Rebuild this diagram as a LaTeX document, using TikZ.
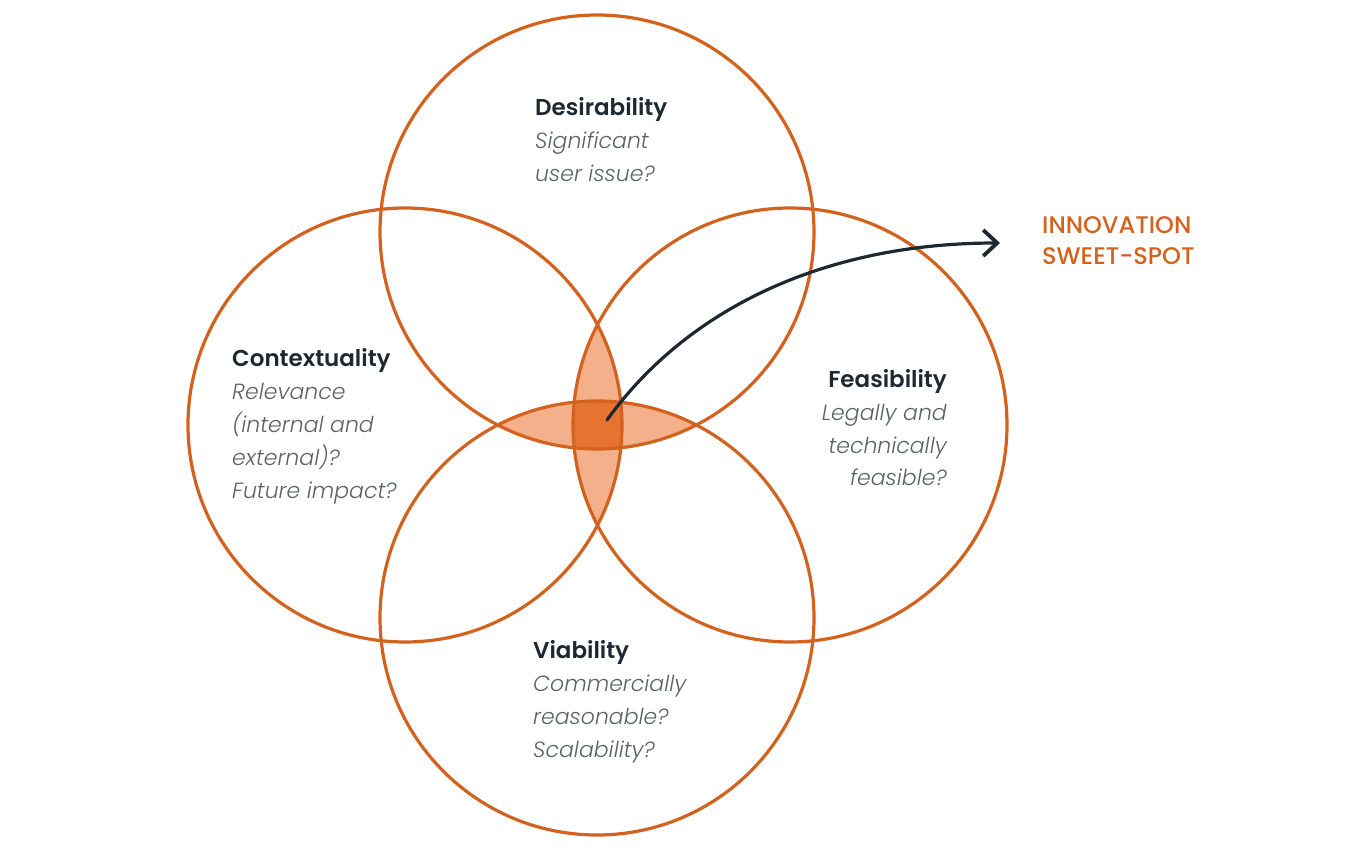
\documentclass[tikz,border=0pt]{standalone}
\usepackage{fontspec}
\setmainfont{Poppins}
\IfFontExistsTF{Poppins SemiBold}{\newfontfamily\hdfont{Poppins SemiBold}}{\newfontfamily\hdfont{Poppins}[UprightFont=*-Bold]}
\IfFontExistsTF{Poppins Light Italic}{\newfontfamily\litfont{Poppins Light Italic}}{\newfontfamily\litfont{Poppins}[UprightFont=*-Italic]}
\IfFontExistsTF{Poppins Medium}{\newfontfamily\mdfont{Poppins Medium}}{\newfontfamily\mdfont{Poppins}}
\usetikzlibrary{arrows.meta}
\definecolor{orng}{HTML}{D2621E}
\definecolor{lens}{HTML}{F3B08A}
\definecolor{core}{HTML}{E6732F}
\definecolor{ink}{HTML}{1E2833}
\definecolor{grey}{HTML}{5C6168}
\tikzset{
  ring/.style={draw=orng, line width=3.2pt},
  head/.style={font=\fontsize{23}{33}\hdfont\selectfont, text=ink, inner sep=0pt},
  sub/.style={font=\fontsize{22}{33}\litfont\selectfont, text=grey, inner sep=0pt},
  sweet/.style={font=\fontsize{24}{33}\mdfont\selectfont, text=orng, inner sep=0pt, anchor=base west},
}
\begin{document}
\begin{tikzpicture}[x=1pt,y=-1pt]
\useasboundingbox (0,0) rectangle (1360,850);
\coordinate (T) at (597,232);
\coordinate (B) at (597,618);
\coordinate (L) at (405,425);
\coordinate (R) at (790,425);
\def\rr{217}
% lenses
\begin{scope}
  \clip (L) circle (\rr);
  \fill[lens] (R) circle (\rr);
\end{scope}
\begin{scope}
  \clip (T) circle (\rr);
  \fill[lens] (B) circle (\rr);
\end{scope}
\begin{scope}
  \clip (L) circle (\rr);
  \clip (R) circle (\rr);
  \clip (T) circle (\rr);
  \fill[core] (B) circle (\rr);
\end{scope}
% circles
\draw[ring] (T) circle (\rr);
\draw[ring] (B) circle (\rr);
\draw[ring] (L) circle (\rr);
\draw[ring] (R) circle (\rr);
% texts
\node[head, anchor=base west] (dh) at (535,116) {Desirability};
\node[sub, anchor=base west] (d1) at (535,149) {Significant};
\node[sub, anchor=base west] (d2) at (535,182) {user issue?};

\node[head, anchor=base west] (ch) at (232,366) {Contextuality};
\node[sub, anchor=base west] (c1) at (232,399) {Relevance};
\node[sub, anchor=base west] (c2) at (232,432) {(internal and};
\node[sub, anchor=base west] (c3) at (232,465) {external)?};
\node[sub, anchor=base west] (c4) at (232,498) {Future impact?};

\node[head, anchor=base east] (fh) at (947,387) {Feasibility};
\node[sub, anchor=base east] (f1) at (947,420) {Legally and};
\node[sub, anchor=base east] (f2) at (947,453) {technically};
\node[sub, anchor=base east] (f3) at (947,485) {feasible?};

\node[head, anchor=base west] (vh) at (533,658) {Viability};
\node[sub, anchor=base west] (v1) at (533,691) {Commercially};
\node[sub, anchor=base west] (v2) at (533,724) {reasonable?};
\node[sub, anchor=base west] (v3) at (533,757) {Scalability?};

\node[sweet] (s1) at (1042,234) {INNOVATION};
\node[sweet] (s2) at (1042,265) {SWEET-SPOT};
% arrow
\coordinate (spot) at (607,420);
\coordinate (tip) at (1000,243);
\draw[ink, line width=3.2pt, line cap=round, -{Straight Barb[length=14pt,width=26pt,line width=3.8pt]}]
  (spot) .. controls (690,305) and (830,243) .. (tip);
\end{tikzpicture}
\end{document}
